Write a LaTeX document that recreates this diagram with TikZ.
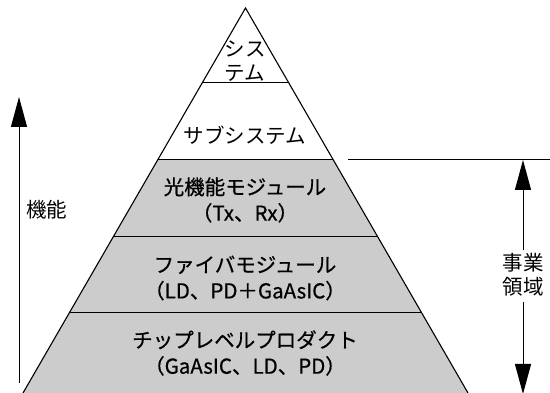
\documentclass[tikz,border=0pt]{standalone}
\usepackage{fontspec}
\newfontfamily\jp{Noto Sans CJK JP}
\newfontfamily\jpb[FakeBold=0.6]{Noto Sans CJK JP}
\usetikzlibrary{arrows.meta,calc}
\definecolor{band}{HTML}{CCCCCC}
\tikzset{
  lbl/.style={font=\jp\fontsize{20.5}{24}\selectfont, align=center, inner sep=0pt},
  lblb/.style={font=\jpb\fontsize{20.5}{26}\selectfont, align=center, inner sep=0pt},
  edge/.style={line width=1.1pt},
  sep/.style={line width=1pt},
  dimarrow/.style={line width=1pt, -{Triangle[length=30pt,width=16pt]}},
}
\begin{document}
\begin{tikzpicture}[x=1pt,y=-1pt]
\useasboundingbox (0,0) rectangle (550,393);
\coordinate (apex) at (245.5,8);
\coordinate (bl) at (23,393);
\coordinate (br) at (468,393);
\coordinate (l1) at ($(apex)!0.1948!(bl)$);
\coordinate (r1) at ($(apex)!0.1948!(br)$);
\coordinate (l2) at ($(apex)!0.3948!(bl)$);
\coordinate (r2) at ($(apex)!0.3948!(br)$);
\coordinate (l3) at ($(apex)!0.5948!(bl)$);
\coordinate (r3) at ($(apex)!0.5948!(br)$);
\coordinate (l4) at ($(apex)!0.7922!(bl)$);
\coordinate (r4) at ($(apex)!0.7922!(br)$);
% gray lower part
\fill[band] (l2) -- (r2) -- (br) -- (bl) -- cycle;
% separators
\draw[sep] (l1) -- (r1);
\draw[sep] (l2) -- (r2);
\draw[sep] (l3) -- (r3);
\draw[sep] (l4) -- (r4);
% triangle
\draw[edge, line join=miter] (bl) -- (apex) -- (br);
% labels
\node[lbl] (sys) at (245,61) {シス\\テム};
\node[lbl] (sub) at (245,135) {サブシステム};
\node[lblb] (opt) at (245,200) {光機能モジュール\\（Tx、Rx）};
\node[lblb] (fib) at (245,278) {ファイバモジュール\\（LD、PD＋GaAsIC）};
\node[lblb] (chip) at (245,353) {チップレベルプロダクト\\（GaAsIC、LD、PD）};
% left arrow
\coordinate (fb) at (19,383);
\coordinate (ft) at (19,97);
\draw[dimarrow] (fb) -- (ft);
\node[lbl] (func) at (47,210) {機能};
% right scope
\coordinate (hs) at (348,160);
\coordinate (he) at (550,160);
\draw[sep] (hs) -- (he);
\node[lbl] (biz) at (523,275) {事業\\領域};
\coordinate (at) at (523,160);
\coordinate (ab) at (523,394);
\draw[dimarrow] (biz.north) ++(0,-3) coordinate (bu) (bu) -- (at);
\draw[dimarrow] (biz.south) ++(0,5) coordinate (bd) (bd) -- (ab);
\end{tikzpicture}
\end{document}
